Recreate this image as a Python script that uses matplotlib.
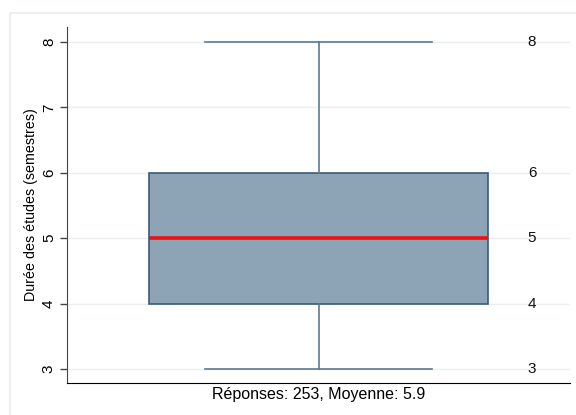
import matplotlib.pyplot as plt
import matplotlib.patches as mpatches

# valeurs
q_min = 3
q1 = 4
median = 5
q3 = 6
q_max = 8
n_rep = 253
moyenne = 5.9

yticks = [3, 4, 5, 6, 7, 8]
value_labels = [q_min, q1, median, q3, q_max]

plt.rcParams['font.family'] = ['Liberation Sans', 'DejaVu Sans']

fig = plt.figure(figsize=(5.76, 4.15), dpi=100)
# cadre gris clair autour du graphique
fig.patches.append(mpatches.Rectangle((10 / 576, -0.1), 1.2, (415 - 13) / 415 + 0.1,
                                      transform=fig.transFigure, fill=False,
                                      edgecolor='#e6eded', linewidth=1.2))
ax = fig.add_axes([67 / 576, 32 / 415, 503 / 576, 356 / 415])

stats = [{'med': median, 'q1': q1, 'q3': q3, 'whislo': q_min, 'whishi': q_max,
          'fliers': [], 'label': ''}]
ax.bxp(stats, positions=[0], widths=1.348, patch_artist=True, showfliers=False,
       boxprops=dict(facecolor='#8da3b6', edgecolor='#3d5a78', linewidth=1.2),
       whiskerprops=dict(color='#5b7895', linewidth=1.2),
       capprops=dict(color='#5b7895', linewidth=1.2),
       medianprops=dict(color='#ee1111', linewidth=2.6),
       capwidths=0.899, zorder=3)

for v in value_labels:
    ax.text(0.849, v, str(v), ha='center', va='center', fontsize=11, color='#111111', zorder=4)

ax.set_xlim(-1, 1)
ax.set_ylim(2.786, 8.23)
ax.set_yticks(yticks)
ax.set_yticklabels([str(t) for t in yticks], rotation=90, va='center', fontsize=11)
ax.set_xticks([])
ax.grid(axis='y', color='#eaf0f0', linewidth=1.0, zorder=0)
ax.set_axisbelow(True)
ax.tick_params(axis='y', length=5, width=1, color='#444444', pad=3)
for s in ['top', 'right']:
    ax.spines[s].set_visible(False)
ax.spines['left'].set_color('#444444')
ax.spines['bottom'].set_color('#000000')

ax.set_ylabel('Durée des études (semestres)', fontsize=10.3, labelpad=3)
ax.set_xlabel(f'Réponses: {n_rep}, Moyenne: {moyenne}', fontsize=11.5, labelpad=3)

fig.savefig('out.png', dpi=100)
